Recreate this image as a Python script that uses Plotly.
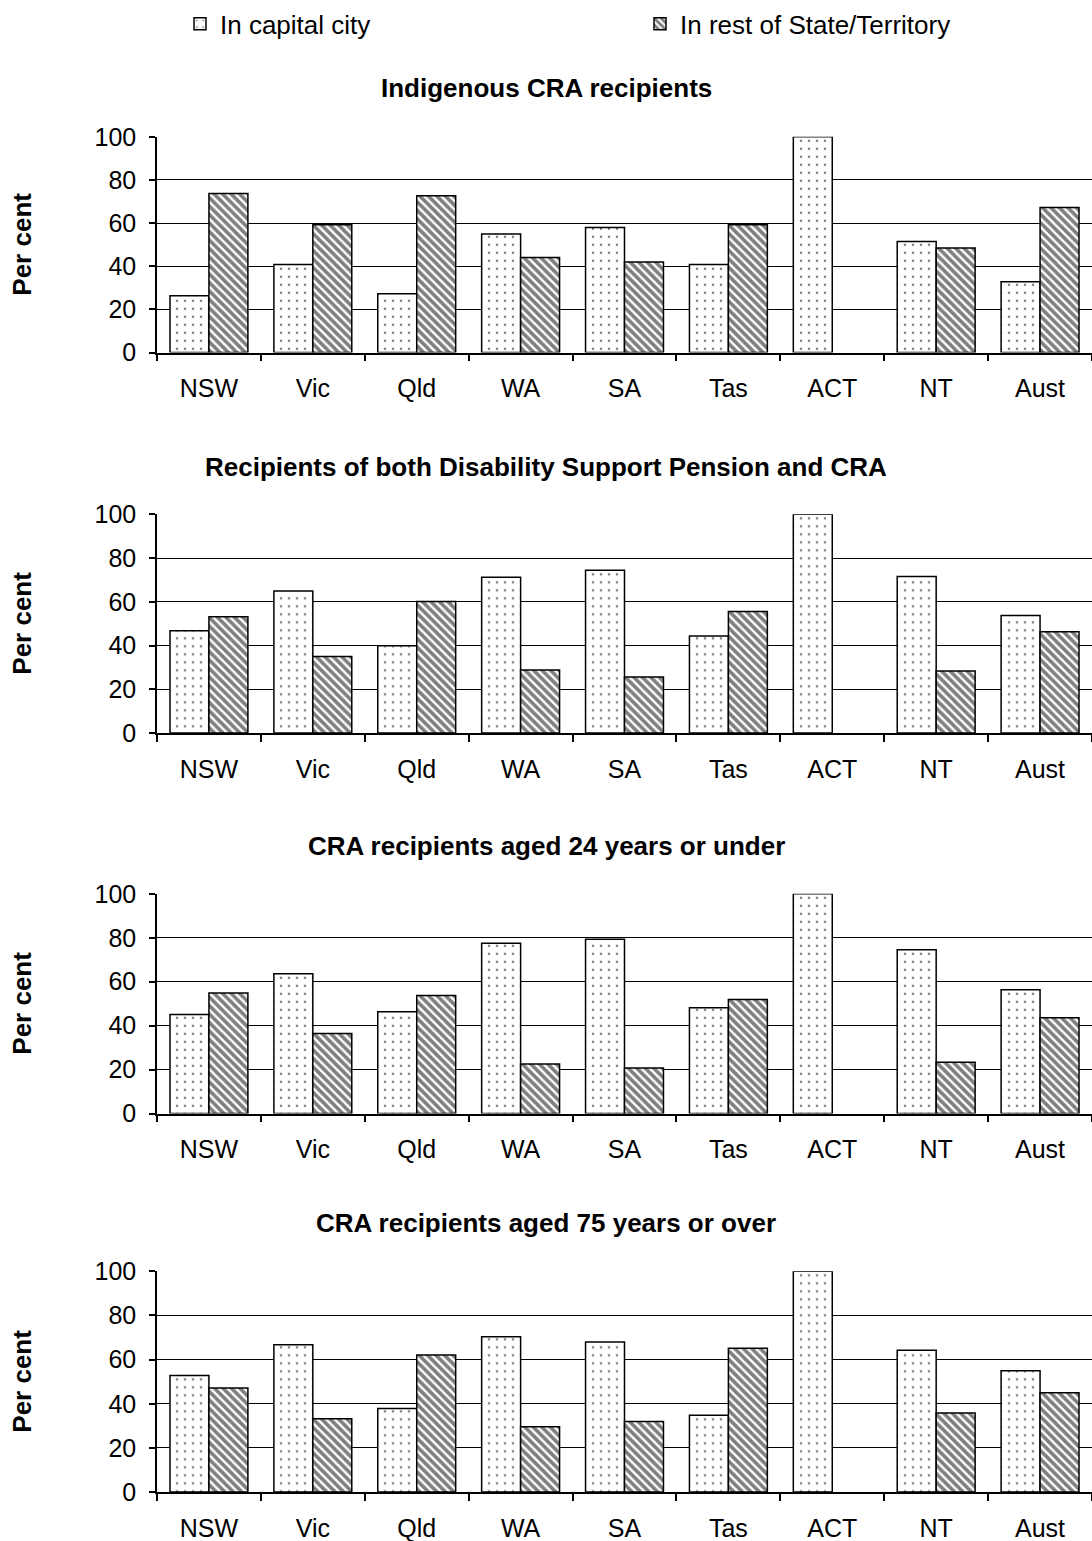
import plotly.graph_objects as go

# Share of CRA recipient groups living in the capital city vs the rest of each State/Territory
states = ["NSW", "Vic", "Qld", "WA", "SA", "Tas", "ACT", "NT", "Aust"]

panel_titles = [
    "Indigenous CRA recipients",
    "Recipients of both Disability Support Pension and CRA",
    "CRA recipients aged 24 years or under",
    "CRA recipients aged 75 years or over",
]

indigenous_capital = [26.3, 40.8, 27.3, 55.0, 58.0, 40.8, 100.0, 51.5, 32.8]
indigenous_rest = [73.7, 59.2, 72.7, 44.0, 42.0, 59.2, 0.0, 48.5, 67.2]

dsp_capital = [46.8, 65.0, 39.9, 71.2, 74.4, 44.4, 100.0, 71.6, 53.7]
dsp_rest = [53.2, 35.0, 60.1, 28.8, 25.6, 55.6, 0.0, 28.4, 46.3]

young_capital = [45.1, 63.6, 46.3, 77.5, 79.3, 48.1, 100.0, 74.6, 56.4]
young_rest = [54.9, 36.4, 53.7, 22.5, 20.7, 51.9, 0.0, 23.4, 43.6]

old_capital = [52.8, 66.8, 37.9, 70.4, 68.0, 34.8, 100.0, 64.2, 55.0]
old_rest = [47.2, 33.2, 62.1, 29.6, 32.0, 65.2, 0.0, 35.8, 45.0]

capital_series = [indigenous_capital, dsp_capital, young_capital, old_capital]
rest_series = [indigenous_rest, dsp_rest, young_rest, old_rest]

y_ticks = [0, 20, 40, 60, 80, 100]

W, H = 1092, 1541
FONT = "Arial, Liberation Sans, sans-serif"
TICK_SIZE = 25
BOLD_SIZE = 26

# Plot-area pixel rows (top, bottom) for each panel, and title centre rows
panel_px = [(135, 351), (513, 732), (893, 1113), (1271, 1492)]
title_px = [86, 466, 845, 1223]
x_left_px = 157


def outline_widths(values):
    # no outline on empty bars so they leave no trace on the axis
    return [1.5 if v > 0 else 0 for v in values]


dot_pattern = dict(shape=".", fgcolor="black", bgcolor="white",
                   size=8, solidity=0.08, fillmode="overlay")
hatch_pattern = dict(shape="\\", fgcolor="black", bgcolor="white",
                     size=6, solidity=0.6, fillmode="overlay")

fig = go.Figure()

for i in range(4):
    xa = "x" if i == 0 else f"x{i + 1}"
    ya = "y" if i == 0 else f"y{i + 1}"
    fig.add_trace(go.Bar(
        x=states, y=capital_series[i], name="In capital city",
        xaxis=xa, yaxis=ya, showlegend=(i == 0), legend="legend",
        marker=dict(color="white",
                    line=dict(color="black", width=outline_widths(capital_series[i])),
                    pattern=dot_pattern),
    ))
    fig.add_trace(go.Bar(
        x=states, y=rest_series[i], name="In rest of State/Territory",
        xaxis=xa, yaxis=ya, showlegend=(i == 0), legend="legend2",
        marker=dict(color="white",
                    line=dict(color="black", width=outline_widths(rest_series[i])),
                    pattern=hatch_pattern),
    ))

legend_common = dict(orientation="h", yanchor="middle", y=1 - 22 / H,
                     xanchor="left", font=dict(family=FONT, size=BOLD_SIZE),
                     bgcolor="rgba(0,0,0,0)", borderwidth=0)

layout = dict(
    width=W, height=H,
    margin=dict(l=0, r=0, t=0, b=0),
    paper_bgcolor="white", plot_bgcolor="white",
    barmode="group", bargap=0.25, bargroupgap=0.0,
    font=dict(family=FONT, size=TICK_SIZE, color="black"),
    legend=dict(x=180 / W, **legend_common),
    legend2=dict(x=640 / W, **legend_common),
    annotations=[],
)

for i in range(4):
    top, bot = panel_px[i]
    xk = "xaxis" if i == 0 else f"xaxis{i + 1}"
    yk = "yaxis" if i == 0 else f"yaxis{i + 1}"
    ya = "y" if i == 0 else f"y{i + 1}"
    xa = "x" if i == 0 else f"x{i + 1}"
    layout[xk] = dict(
        domain=[x_left_px / W, 1.0], anchor=ya,
        type="category", categoryorder="array", categoryarray=states,
        showline=True, linecolor="black", linewidth=1.5,
        ticks="outside", tickson="boundaries", ticklen=7,
        tickcolor="black", tickwidth=1.5,
        ticklabelstandoff=13,
        tickfont=dict(family=FONT, size=TICK_SIZE),
        showgrid=False, automargin=False, fixedrange=True,
    )
    layout[yk] = dict(
        domain=[1 - bot / H, 1 - top / H], anchor=xa,
        range=[0, 100], tickvals=y_ticks,
        showline=True, linecolor="black", linewidth=1.5,
        ticks="outside", ticklen=6, tickcolor="black", tickwidth=1.5,
        ticklabelstandoff=8,
        tickfont=dict(family=FONT, size=TICK_SIZE),
        showgrid=True, gridcolor="black", gridwidth=1,
        zeroline=False, automargin=False, fixedrange=True,
    )
    layout["annotations"].append(dict(
        text=f"<b>{panel_titles[i]}</b>", xref="paper", yref="paper",
        x=0.5, y=1 - title_px[i] / H, xanchor="center", yanchor="middle",
        showarrow=False, font=dict(family=FONT, size=BOLD_SIZE),
    ))
    layout["annotations"].append(dict(
        text="<b>Per cent</b>", xref="paper", yref="paper",
        x=22 / W, y=1 - (top + bot) / 2 / H, xanchor="center", yanchor="middle",
        textangle=-90, showarrow=False, font=dict(family=FONT, size=BOLD_SIZE),
    ))

fig.update_layout(**layout)
fig.write_html("out.html")
